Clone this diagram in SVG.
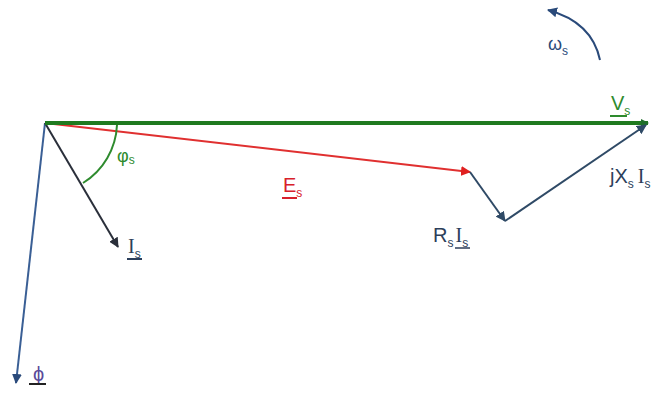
<svg xmlns="http://www.w3.org/2000/svg" width="671" height="398" viewBox="0 0 671 398">
<defs>
<style>
.t{font-family:"Liberation Sans",Arial,sans-serif;font-size:20px}
.sub{font-size:12px}
.g{fill:#2e8b2e}
.r{fill:#d8202a}
.b{fill:#2c3e5a}
.i{font-family:"Liberation Serif","Times New Roman",serif}
</style>
<marker id="ag" markerWidth="8" markerHeight="8" refX="7" refY="4" orient="auto" markerUnits="userSpaceOnUse"><path d="M0,0L8,4L0,8z" fill="#1f6e2a"/></marker>
<marker id="ar" markerWidth="10" markerHeight="10" refX="9" refY="5" orient="auto" markerUnits="userSpaceOnUse"><path d="M0,0L10,5L0,10z" fill="#e02020"/></marker>
<marker id="ak" markerWidth="10" markerHeight="10" refX="9" refY="5" orient="auto" markerUnits="userSpaceOnUse"><path d="M0,0L10,5L0,10z" fill="#2a2f3a"/></marker>
<marker id="ab" markerWidth="10" markerHeight="10" refX="9" refY="5" orient="auto" markerUnits="userSpaceOnUse"><path d="M0,0L10,5L0,10z" fill="#2a4a7a"/></marker>
<marker id="as" markerWidth="10" markerHeight="10" refX="9" refY="5" orient="auto" markerUnits="userSpaceOnUse"><path d="M0,0L10,5L0,10z" fill="#2f4a66"/></marker>
</defs>
<rect width="671" height="398" fill="#fff"/>
<g id="connectors" fill="none">
<line x1="45" y1="123" x2="16" y2="383" stroke="#3a5f95" stroke-width="2" marker-end="url(#ab)"/>
<line x1="45" y1="123" x2="118" y2="247" stroke="#2a2f3a" stroke-width="2" marker-end="url(#ak)"/>
<line x1="45" y1="123" x2="470" y2="172" stroke="#e03030" stroke-width="2" marker-end="url(#ar)"/>
<line x1="45" y1="123" x2="648" y2="123" stroke="#1f7a1f" stroke-width="4" marker-end="url(#ag)"/>
<line x1="470" y1="172" x2="505" y2="221" stroke="#2f4a66" stroke-width="2" marker-end="url(#as)"/>
<line x1="505" y1="221" x2="646" y2="125" stroke="#2f4a66" stroke-width="2" marker-end="url(#as)"/>
<path d="M117,125 A72,72 0 0 1 83,183" stroke="#2e8b2e" stroke-width="2"/>
<path d="M600,60 Q592,22 548,10" stroke="#2a4a7a" stroke-width="2" marker-end="url(#ab)"/>
</g>
<g id="Vs"><text class="t g" x="611" y="110">V<tspan class="sub" dy="5">s</tspan></text><line x1="610" y1="116" x2="627" y2="116" stroke="#2e8b2e" stroke-width="2"/></g>
<g id="Es"><text class="t r" x="283" y="192">E<tspan class="sub" dy="5">s</tspan></text><line x1="282" y1="198" x2="297" y2="198" stroke="#d8202a" stroke-width="2"/></g>
<g id="Is"><text class="t b" x="128" y="253"><tspan class="i">I</tspan><tspan class="sub" dy="5">s</tspan></text><line x1="127" y1="259" x2="142" y2="259" stroke="#2c3e5a" stroke-width="2"/></g>
<g id="phi"><text class="t" x="33" y="381" fill="#5a4a9a">ϕ</text><line x1="29" y1="384" x2="46" y2="384" stroke="#222" stroke-width="2"/></g>
<g id="phis"><text class="t g" x="117" y="162" style="font-size:18px">φ<tspan class="sub" dy="2">s</tspan></text></g>
<g id="RsIs"><text class="t b" x="433" y="242">R<tspan class="sub" dy="5">s</tspan><tspan class="i" dy="-5" dx="2">I</tspan><tspan class="sub" dy="5">s</tspan></text><line x1="455" y1="248" x2="470" y2="248" stroke="#2c3e5a" stroke-width="1.5"/></g>
<g id="jXsIs"><text class="t b" x="610" y="183">jX<tspan class="sub" dy="5">s</tspan><tspan class="i" dy="-5" dx="4">I</tspan><tspan class="sub" dy="5">s</tspan></text></g>
<g id="ws"><text class="t" x="548" y="50" fill="#2a4a7a" style="font-size:18px">ω<tspan class="sub" dy="5">s</tspan></text></g>
</svg>
